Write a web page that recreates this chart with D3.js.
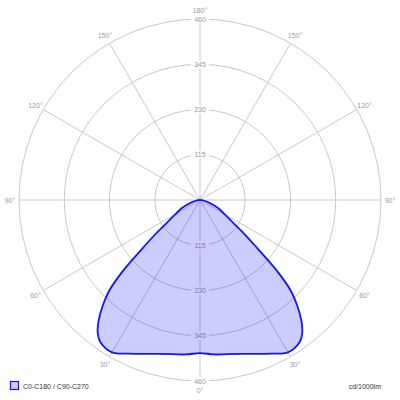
<!DOCTYPE html>
<html lang="en">
<head>
    <meta charset="UTF-8">
    <title>Polar intensity diagram</title>
    <script src="https://d3js.org/d3.v7.min.js"></script>
    <style>
        body { margin: 0; background: #fff; font-family: "Liberation Sans", Arial, sans-serif; }
        .grid { fill: none; stroke: #c8c8c8; stroke-width: 1px; }
        .lbl { font-size: 7px; fill: #9a9a9a; }
        .legend { font-size: 7px; fill: #333; }
    </style>
</head>
<body>
    <svg id="chart" width="400" height="400"></svg>
    <script>
        // gamma angles (degrees from nadir) and intensities, cd/1000lm
        var gammas = [0, 5, 10, 15, 20, 25, 30, 35, 37.5, 40, 42.5, 45, 47.5, 50, 52.5, 55, 60, 65, 70, 75, 80, 85, 90];
        var intensity = [389, 394, 398, 405, 416, 431, 447, 441, 427, 401, 367, 327, 262, 189, 143, 107, 72, 53, 34, 22, 11, 4, 0];

        var ringTicks = [115, 230, 345, 460];
        var spokeAngles = [0, 30, 60, 90, 120, 150, 180];
        var seriesName = "C0-C180 / C90-C270";
        var unitLabel = "cd/1000lm";

        var cx = 200, cy = 200, R = 181;
        var rad = Math.PI / 180;

        var r = d3.scaleLinear().domain([0, 460]).range([0, R]);

        var svg = d3.select("#chart");
        var g = svg.append("g").attr("transform", "translate(" + cx + "," + cy + ")");

        // rings
        g.selectAll(".ring")
            .data(ringTicks)
            .enter().append("circle")
            .attr("class", "grid")
            .attr("r", function(d) { return r(d); });

        // spokes on both sides (screen angle measured from top, clockwise)
        var spokes = [];
        spokeAngles.forEach(function(a) {
            spokes.push(180 - a);
            if (a > 0 && a < 180) spokes.push(180 + a);
        });
        g.selectAll(".spoke")
            .data(spokes)
            .enter().append("line")
            .attr("class", "grid")
            .attr("x1", 0).attr("y1", 0)
            .attr("x2", function(d) { return r(460) * Math.sin(d * rad); })
            .attr("y2", function(d) { return -r(460) * Math.cos(d * rad); });

        // angle labels
        var angleLabels = [];
        spokeAngles.forEach(function(a) {
            angleLabels.push({ text: a + "°", screen: 180 - a });
            if (a > 0 && a < 180) angleLabels.push({ text: a + "°", screen: 180 + a });
        });
        g.selectAll(".alab")
            .data(angleLabels)
            .enter().append("text")
            .attr("class", "lbl")
            .attr("text-anchor", "middle")
            .attr("dominant-baseline", "central")
            .attr("x", function(d) { return (R + 9) * Math.sin(d.screen * rad); })
            .attr("y", function(d) { return -(R + 9) * Math.cos(d.screen * rad); })
            .text(function(d) { return d.text; });

        // ring value labels, top and bottom, with white backing
        var ringLabels = [];
        ringTicks.forEach(function(t) {
            ringLabels.push({ v: t, dir: -1 });
            ringLabels.push({ v: t, dir: 1 });
        });
        var rl = g.selectAll(".rlab")
            .data(ringLabels)
            .enter().append("g")
            .attr("transform", function(d) { return "translate(0," + (d.dir * r(d.v)) + ")"; });
        rl.append("rect")
            .attr("x", -9).attr("y", -4)
            .attr("width", 18).attr("height", 8)
            .attr("fill", "#fff");
        rl.append("text")
            .attr("class", "lbl")
            .attr("text-anchor", "middle")
            .attr("dominant-baseline", "central")
            .text(function(d) { return d.v; });

        // curve: right half from 90 down to nadir, then left half back up
        var pts = [];
        for (var i = gammas.length - 1; i >= 0; i--) pts.push([(180 - gammas[i]) * rad, r(intensity[i])]);
        for (var j = 1; j < gammas.length; j++) pts.push([(180 + gammas[j]) * rad, r(intensity[j])]);

        var line = d3.lineRadial()
            .angle(function(d) { return d[0]; })
            .radius(function(d) { return d[1]; })
            .curve(d3.curveCatmullRom.alpha(0.5));

        g.append("path")
            .attr("d", line(pts) + "Z")
            .attr("fill", "rgba(0,0,255,0.2)")
            .attr("stroke", "#1414ff")
            .attr("stroke-width", 1.8)
            .attr("stroke-linejoin", "round");

        // legend
        svg.append("rect")
            .attr("x", 10.5).attr("y", 381.5)
            .attr("width", 8).attr("height", 8)
            .attr("fill", "rgba(0,0,255,0.2)")
            .attr("stroke", "#1414ff")
            .attr("stroke-width", 1.2);
        svg.append("text")
            .attr("class", "legend")
            .attr("x", 23).attr("y", 388.5)
            .text(seriesName);
        svg.append("text")
            .attr("class", "legend")
            .attr("x", 381).attr("y", 388.5)
            .attr("text-anchor", "end")
            .text(unitLabel);
    </script>
</body>
</html>
